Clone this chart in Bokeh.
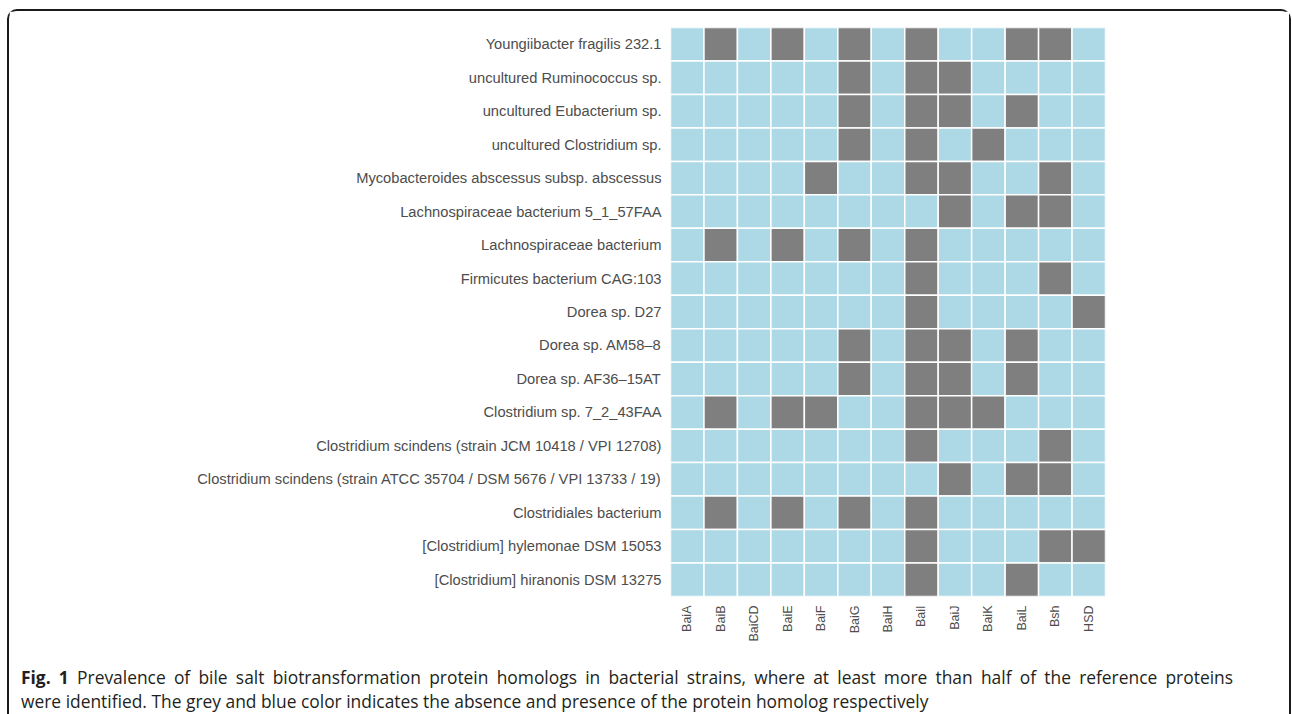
import math
from bokeh.plotting import figure
from bokeh.models import FactorRange, ColumnDataSource, Div
from bokeh.layouts import column
from bokeh.embed import file_html
from bokeh.resources import INLINE

proteins = ["BaiA", "BaiB", "BaiCD", "BaiE", "BaiF", "BaiG", "BaiH",
            "BaiI", "BaiJ", "BaiK", "BaiL", "Bsh", "HSD"]

strains = [
    "Youngiibacter fragilis 232.1",
    "uncultured Ruminococcus sp.",
    "uncultured Eubacterium sp.",
    "uncultured Clostridium sp.",
    "Mycobacteroides abscessus subsp. abscessus",
    "Lachnospiraceae bacterium 5_1_57FAA",
    "Lachnospiraceae bacterium",
    "Firmicutes bacterium CAG:103",
    "Dorea sp. D27",
    "Dorea sp. AM58\u20138",
    "Dorea sp. AF36\u201315AT",
    "Clostridium sp. 7_2_43FAA",
    "Clostridium scindens (strain JCM 10418 / VPI 12708)",
    "Clostridium scindens (strain ATCC 35704 / DSM 5676 / VPI 13733 / 19)",
    "Clostridiales bacterium",
    "[Clostridium] hylemonae DSM 15053",
    "[Clostridium] hiranonis DSM 13275",
]

# 1 = homolog present (blue), 0 = absent (grey)
presence = [
    [1, 0, 1, 0, 1, 0, 1, 0, 1, 1, 0, 0, 1],
    [1, 1, 1, 1, 1, 0, 1, 0, 0, 1, 1, 1, 1],
    [1, 1, 1, 1, 1, 0, 1, 0, 0, 1, 0, 1, 1],
    [1, 1, 1, 1, 1, 0, 1, 0, 1, 0, 1, 1, 1],
    [1, 1, 1, 1, 0, 1, 1, 0, 0, 1, 1, 0, 1],
    [1, 1, 1, 1, 1, 1, 1, 1, 0, 1, 0, 0, 1],
    [1, 0, 1, 0, 1, 0, 1, 0, 1, 1, 1, 1, 1],
    [1, 1, 1, 1, 1, 1, 1, 0, 1, 1, 1, 0, 1],
    [1, 1, 1, 1, 1, 1, 1, 0, 1, 1, 1, 1, 0],
    [1, 1, 1, 1, 1, 0, 1, 0, 0, 1, 0, 1, 1],
    [1, 1, 1, 1, 1, 0, 1, 0, 0, 1, 0, 1, 1],
    [1, 0, 1, 0, 0, 1, 1, 0, 0, 0, 1, 1, 1],
    [1, 1, 1, 1, 1, 1, 1, 0, 1, 1, 1, 0, 1],
    [1, 1, 1, 1, 1, 1, 1, 1, 0, 1, 0, 0, 1],
    [1, 0, 1, 0, 1, 0, 1, 0, 1, 1, 1, 1, 1],
    [1, 1, 1, 1, 1, 1, 1, 0, 1, 1, 1, 0, 0],
    [1, 1, 1, 1, 1, 1, 1, 0, 1, 1, 0, 1, 1],
]

caption_bold = "Fig. 1"
caption_line1 = ("Prevalence of bile salt biotransformation protein homologs in bacterial "
                 "strains, where at least more than half of the reference proteins")
caption_line2 = ("were identified. The grey and blue color indicates the absence and "
                 "presence of the protein homolog respectively")

PRESENT = "#ADD8E6"
ABSENT = "#7F7F7F"

xs, ys, colors = [], [], []
for s, row in zip(strains, presence):
    for prot, v in zip(proteins, row):
        xs.append(prot)
        ys.append(s)
        colors.append(PRESENT if v else ABSENT)
src = ColumnDataSource(dict(x=xs, y=ys, color=colors))

p = figure(width=1280, height=640,
           x_range=FactorRange(factors=proteins),
           y_range=FactorRange(factors=strains[::-1]),
           output_backend="svg", toolbar_location=None,
           min_border_left=661, min_border_right=184,
           min_border_top=16, min_border_bottom=55)

p.rect(x="x", y="y", width=1, height=1, source=src,
       fill_color="color", line_color="white", line_width=1.5)

p.outline_line_color = None
p.grid.visible = False

for ax in (p.xaxis[0], p.yaxis[0]):
    ax.axis_line_color = None
    ax.major_tick_line_color = None
    ax.minor_tick_line_color = None
    ax.major_tick_out = 0
    ax.major_tick_in = 0
    ax.major_label_text_font = "Liberation Sans"
    ax.major_label_text_color = "#4d4d4d"

p.yaxis.major_label_standoff = 9
p.yaxis.major_label_text_font_size = "14.7px"
p.xaxis.major_label_standoff = 9
p.xaxis.major_label_text_font_size = "12.5px"
p.xaxis.major_label_orientation = math.pi / 2

cap_html = (
    '<div style="font-family:\'Open Sans\';font-size:17.4px;line-height:24px;'
    'color:#231f20;white-space:nowrap;padding-left:12px;padding-top:13.5px;">'
    '<div style="width:1212px;text-align:justify;text-align-last:justify;">'
    f'<b>{caption_bold}</b> {caption_line1}</div>'
    f'<div>{caption_line2}</div></div>'
)
cap = Div(text=cap_html, width=1280, height=63, margin=0)

layout = column(p, cap, spacing=0, styles={
    "margin-left": "7px",
    "margin-top": "9px",
    "border-top": "2px solid #1a1a1a",
    "border-left": "2px solid #1a1a1a",
    "border-right": "2px solid #1a1a1a",
    "border-top-left-radius": "10px",
    "border-top-right-radius": "10px",
})

open("out.html", "w").write(file_html(layout, INLINE))
